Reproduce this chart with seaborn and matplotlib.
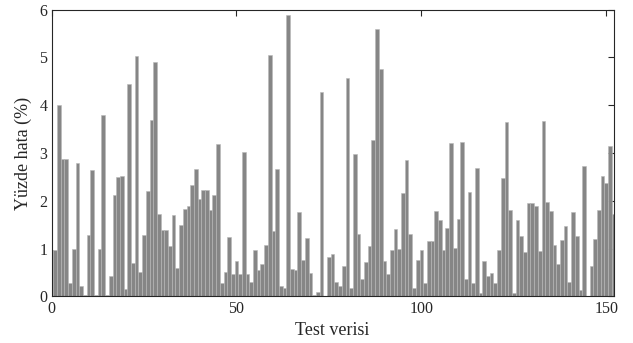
import numpy as np
import pandas as pd
import matplotlib
matplotlib.use("Agg")
import matplotlib.pyplot as plt
import seaborn as sns

# Data: percentage error per test sample (index 0..152)
test_index = list(range(153))
error_pct = [
    0.98, 0.98, 4.00, 2.87, 2.87, 0.29, 0.99, 2.80, 0.22, 0.03,
    1.28, 2.64, 0.03, 0.99, 3.80, 0.03, 0.43, 2.13, 2.50, 2.53,
    0.15, 4.44, 0.71, 5.02, 0.51, 1.28, 2.20, 3.70, 4.90, 1.73,
    1.40, 1.40, 1.06, 1.71, 0.59, 1.49, 1.83, 1.89, 2.34, 2.66,
    2.03, 2.23, 2.23, 1.81, 2.13, 3.18, 0.29, 0.52, 1.24, 0.48,
    0.74, 0.48, 3.02, 0.47, 0.31, 0.98, 0.55, 0.68, 1.07, 5.06,
    1.38, 2.66, 0.21, 0.17, 5.88, 0.57, 0.55, 1.76, 0.77, 1.22,
    0.49, 0.04, 0.10, 4.28, 0.02, 0.82, 0.89, 0.31, 0.22, 0.64,
    4.57, 0.18, 2.97, 1.30, 0.36, 0.73, 1.06, 3.27, 5.59, 4.75,
    0.75, 0.47, 0.98, 1.42, 1.00, 2.17, 2.85, 1.31, 0.17, 0.77,
    0.98, 0.29, 1.17, 1.17, 1.79, 1.61, 0.98, 1.43, 3.21, 1.02,
    1.63, 3.23, 0.37, 2.19, 0.28, 2.69, 0.08, 0.75, 0.42, 0.49,
    0.29, 0.98, 2.48, 3.64, 1.81, 0.08, 1.60, 1.27, 0.93, 1.96,
    1.96, 1.89, 0.95, 3.68, 1.98, 1.79, 1.08, 0.68, 1.18, 1.48,
    0.31, 1.76, 1.27, 0.14, 2.72, 0.02, 0.63, 1.21, 1.80, 2.53,
    2.37, 3.15, 1.73,
]
x_ticks = [0, 50, 100, 150]
y_ticks = [0, 1, 2, 3, 4, 5, 6]

df = pd.DataFrame({"idx": test_index, "err": error_pct})

sns.set_style("white")
plt.rcParams["font.family"] = ["Liberation Serif", "DejaVu Serif"]

fig = plt.figure(figsize=(6.33, 3.43), dpi=100)
ax = fig.add_axes([0.0814, 0.1356, 0.9695 - 0.0814, 0.972 - 0.1356])

sns.barplot(data=df, x="idx", y="err", native_scale=True, width=1.0,
            color="#868686", saturation=1, edgecolor="#b8b8b8",
            linewidth=0.4, errorbar=None, ax=ax)

ax.set_xlim(0, 152)
ax.set_ylim(0, 6)
ax.set_xticks(x_ticks)
ax.set_yticks(y_ticks)
ax.set_xticklabels([str(t) for t in x_ticks])
ax.set_yticklabels([str(t) for t in y_ticks])
ax.tick_params(direction="in", length=4, width=0.8, top=True, right=True,
               labelsize=11.5, colors="#262626", pad=3)
for s in ax.spines.values():
    s.set_visible(True)
    s.set_color("#262626")
    s.set_linewidth(0.8)

ax.set_xlabel("Test verisi", fontsize=13, color="#262626", labelpad=4)
ax.set_ylabel("Yüzde hata (%)", fontsize=13, color="#262626", labelpad=5)

fig.savefig("out.png", dpi=100)
